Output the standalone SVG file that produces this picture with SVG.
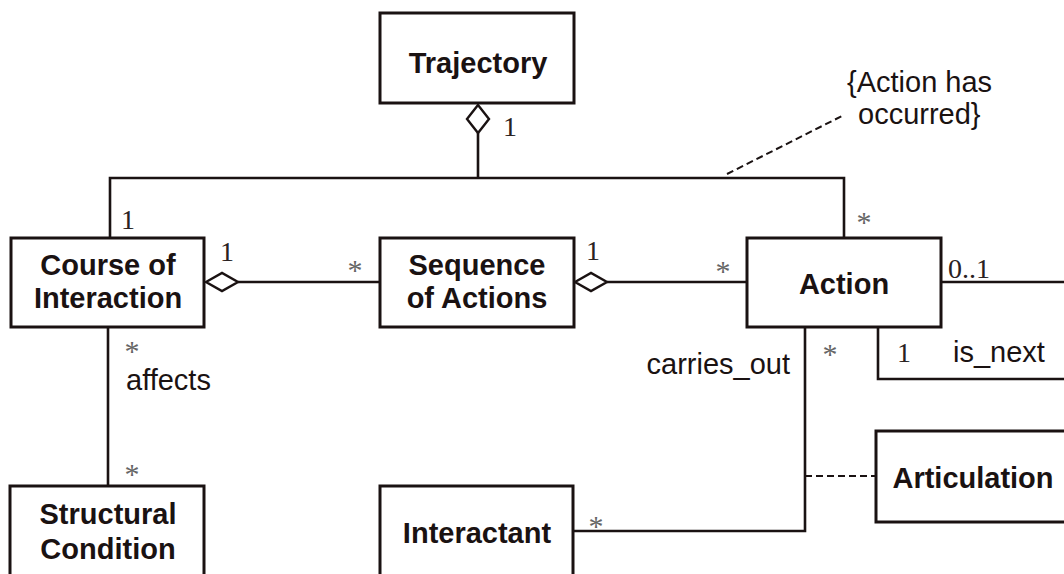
<svg xmlns="http://www.w3.org/2000/svg" width="1064" height="574" viewBox="0 0 1064 574">
<style>
.box{fill:#fff;stroke:#1a1212;stroke-width:3}
.ln{fill:none;stroke:#1a1212;stroke-width:2.6}
.dash{fill:none;stroke:#1a1212;stroke-width:2;stroke-dasharray:7 4}
.dia{fill:#fff;stroke:#1a1212;stroke-width:2.4}
.name{font-family:"Liberation Sans",Arial,sans-serif;font-weight:bold;font-size:29px;fill:#1a1212;text-anchor:middle}
.lbl{font-family:"Liberation Sans",Arial,sans-serif;font-size:29px;fill:#1a1212}
.mult{font-family:"Liberation Serif","Times New Roman",serif;font-size:28px;fill:#2a2222}
.star{font-family:"Liberation Serif","Times New Roman",serif;font-size:30px;fill:#666}
</style>
<rect width="1064" height="574" fill="#fff"/>
<g id="connectors">
<path class="ln" d="M478 133 V178 M110 237 V178 H844 V238"/>
<path class="ln" d="M238 282 H380"/>
<path class="ln" d="M607 282 H747"/>
<path class="ln" d="M941 282 H1066"/>
<path class="ln" d="M878 327 V379 H1066"/>
<path class="ln" d="M805 327 V531 H574"/>
<path class="ln" d="M108 327 V487"/>
<path class="dash" d="M805 476 H876"/>
<path class="dash" d="M727 174 L842 116"/>
<path class="dia" d="M478 105 L489 119 L478 133 L467 119 Z"/>
<path class="dia" d="M206 282 L222 273 L238 282 L222 291 Z"/>
<path class="dia" d="M575 282 L591 273 L607 282 L591 291 Z"/>
<text class="mult" x="503" y="136">1</text>
<text class="mult" x="121" y="229">1</text>
<text class="mult" x="220" y="261">1</text>
<text class="mult" x="586" y="260">1</text>
<text class="star" x="347.5" y="280">*</text>
<text class="star" x="715.5" y="281">*</text>
<text class="star" x="856.5" y="232">*</text>
<text class="mult" x="948" y="278">0..1</text>
<text class="mult" x="897" y="362">1</text>
<text class="lbl" x="953" y="362">is_next</text>
<text class="star" x="822.5" y="364">*</text>
<text class="lbl" x="790" y="374" text-anchor="end">carries_out</text>
<text class="star" x="124.5" y="361">*</text>
<text class="lbl" x="126" y="390">affects</text>
<text class="star" x="124.5" y="484">*</text>
<text class="star" x="588.5" y="536">*</text>
<text class="lbl" x="847" y="92">{Action has</text>
<text class="lbl" x="858" y="124">occurred}</text>
</g>
<g id="trajectory"><rect class="box" x="380" y="13" width="194" height="90"/><text class="name" x="478" y="73">Trajectory</text></g>
<g id="course"><rect class="box" x="11" y="238" width="193" height="89"/><text class="name" x="108" y="275">Course of</text><text class="name" x="108" y="308">Interaction</text></g>
<g id="sequence"><rect class="box" x="380" y="238" width="194" height="89"/><text class="name" x="477" y="275">Sequence</text><text class="name" x="477" y="308">of Actions</text></g>
<g id="action"><rect class="box" x="747" y="238" width="194" height="89"/><text class="name" x="844" y="294">Action</text></g>
<g id="articulation"><rect class="box" x="876" y="431" width="200" height="91"/><text class="name" x="973" y="488">Articulation</text></g>
<g id="interactant"><rect class="box" x="380" y="486" width="193" height="100"/><text class="name" x="477" y="543">Interactant</text></g>
<g id="structural"><rect class="box" x="10" y="486" width="194" height="100"/><text class="name" x="108" y="524">Structural</text><text class="name" x="108" y="559">Condition</text></g>
</svg>
